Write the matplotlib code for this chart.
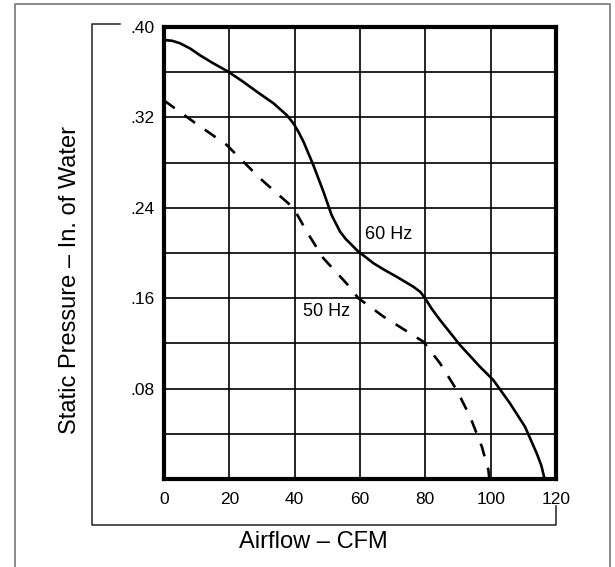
import numpy as np
import matplotlib
matplotlib.use("Agg")
import matplotlib.pyplot as plt
from matplotlib.lines import Line2D

plt.rcParams['font.family'] = ['Liberation Sans', 'DejaVu Sans']

# curva 60 Hz (linea continua)
x60 = [0, 2.5, 4.9, 8, 11.0, 15, 19.7, 24, 28.4, 33.5, 37.6, 39.6, 41.2, 42.7,
       45.7, 48.8, 51.3, 53.9, 55.6, 57.5, 59.5, 61.0, 64.1, 67.5, 71.2, 76.3,
       78.5, 79.9, 82, 84.5, 90.6, 96.7, 100.8, 105.9, 110.5, 114.1, 115.5, 116.5]
y60 = [0.3885, 0.3878, 0.3856, 0.381, 0.375, 0.368, 0.3604, 0.352, 0.3428,
       0.3325, 0.322, 0.3148, 0.307, 0.2985, 0.2779, 0.2543, 0.2336, 0.2189,
       0.2125, 0.207, 0.2012, 0.198, 0.191, 0.185, 0.179, 0.1702, 0.1655,
       0.160, 0.1505, 0.1407, 0.1186, 0.0994, 0.0876, 0.0670, 0.0463, 0.0227,
       0.012, 0.0]

# curva 50 Hz (linea discontinua)
x50 = [0, 9.0, 19.2, 29.4, 39.6, 43.7, 48.8, 55.9, 59.5, 67.2, 79.4, 84.5,
       89.6, 93.7, 97.3, 99.3, 99.6]
y50 = [0.3350, 0.3162, 0.2956, 0.266, 0.240, 0.2189, 0.1953, 0.173, 0.160,
       0.1437, 0.1215, 0.1024, 0.0788, 0.0552, 0.0286, 0.008, 0.0]

xticks = [0, 20, 40, 60, 80, 100, 120]
yticks = [0.08, 0.16, 0.24, 0.32, 0.40]
ylabels = ['.08', '.16', '.24', '.32', '.40']

W, H = 615, 567
fig = plt.figure(figsize=(W / 100, H / 100), dpi=100)
ax = fig.add_axes([164 / W, 1 - 479 / H, (556 - 164) / W, (479 - 27) / H])

ax.set_xlim(0, 120)
ax.set_ylim(0, 0.40)
ax.set_xticks(np.arange(0, 121, 20))
ax.set_xticklabels([str(v) for v in xticks])
ax.set_yticks(np.arange(0, 0.401, 0.04), minor=True)
ax.set_yticks(yticks)
ax.set_yticklabels(ylabels)
ax.tick_params(length=0, labelsize=12.5, colors='black')
ax.tick_params(axis='x', pad=9)
ax.tick_params(axis='y', pad=7)
ax.tick_params(which='minor', length=0)
ax.grid(True, which='both', color='black', lw=1.2)
ax.set_axisbelow(True)
for s in ax.spines.values():
    s.set_linewidth(3.0)

ax.plot(x60, y60, color='black', lw=1.9, solid_joinstyle='round')
ax.plot(x50, y50, color='black', lw=1.9, dashes=(5, 4.5))

ax.text(61.5, 0.216, '60 Hz', fontsize=13, va='center', ha='left')
ax.text(42.5, 0.148, '50 Hz', fontsize=13, va='center', ha='left')

# etiquetas de ejes
fig.text(70 / W, 1 - 280 / H, 'Static Pressure \u2013 In. of Water', rotation=90,
         fontsize=17, ha='center', va='center')
fig.text(313 / W, 1 - 542 / H, 'Airflow \u2013 CFM', fontsize=17,
         ha='center', va='center')

# corchetes y borde exterior
def pline(xs, ys, color, lw):
    fig.add_artist(Line2D([x / W for x in xs], [1 - y / H for y in ys],
                          transform=fig.transFigure, color=color, lw=lw))

pline([120, 92, 92, 556, 556], [24, 24, 525, 525, 506], '#333333', 1.2)
pline([15, 15, 610, 610], [567, 4, 4, 567], '#777777', 1.2)

fig.savefig('out.png', dpi=100)
